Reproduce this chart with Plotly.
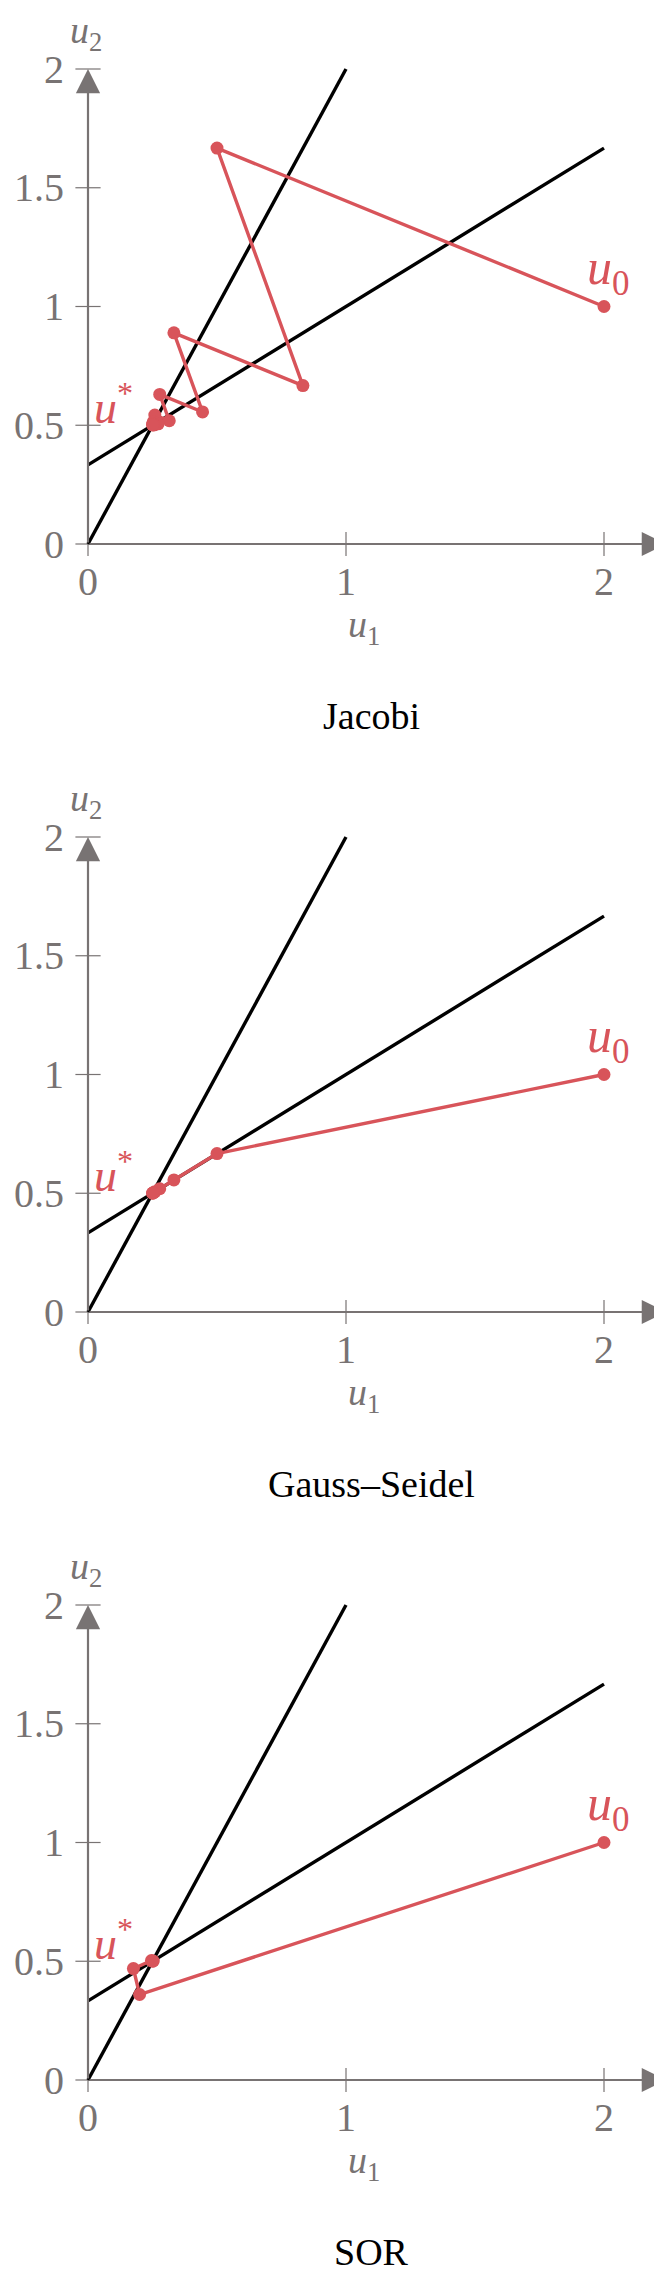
import plotly.graph_objects as go

# ---------------- data ----------------
line_a_u1 = [0.0, 1.0]          # u2 = 2 u1
line_a_u2 = [0.0, 2.0]
line_b_u1 = [0.0, 2.0]          # u2 = (1 + 2 u1) / 3
line_b_u2 = [0.3333, 1.6667]

jacobi_u1 = [2.0, 0.5, 0.833, 0.333, 0.444, 0.278, 0.315, 0.259, 0.272, 0.253, 0.257, 0.251, 0.252, 0.250]
jacobi_u2 = [1.0, 1.667, 0.667, 0.889, 0.556, 0.630, 0.519, 0.543, 0.506, 0.514, 0.502, 0.505, 0.501, 0.502]

gs_u1 = [2.0, 0.5, 0.333, 0.278, 0.259, 0.253, 0.251, 0.250]
gs_u2 = [1.0, 0.667, 0.556, 0.519, 0.506, 0.502, 0.501, 0.500]

sor_u1 = [2.0, 0.2, 0.176, 0.246, 0.253, 0.250]
sor_u2 = [1.0, 0.36, 0.469, 0.503, 0.501, 0.500]

titles = ["Jacobi", "Gauss–Seidel", "SOR"]

x_ticks = [0, 1, 2]
x_tick_labels = ["0", "1", "2"]
y_ticks = [0, 0.5, 1, 1.5, 2]
y_tick_labels = ["0", "0.5", "1", "1.5", "2"]

x_axis_end = 2.24
y_axis_end = 2.0
start_label_pos = (2.0, 1.0)
star_label_pos = (0.10, 0.59)

# ---------------- styling / layout ----------------
W, H = 662, 2272
PX0, SX = 80.0, 258.0
Y0PX = [536.0, 1304.0, 2072.0]
SY = 237.5
BAND = 768.0

GRAY = "#787373"
RED = "#d8545a"
FONT = "Liberation Serif"

paths = [(jacobi_u1, jacobi_u2), (gs_u1, gs_u2), (sor_u1, sor_u2)]

fig = go.Figure()
annotations = []
xrange_ = [(0 - PX0) / SX, (W - PX0) / SX]

for k in range(3):
    sfx = "" if k == 0 else str(k + 1)
    xa, ya = "x" + sfx, "y" + sfx
    top = BAND * k
    bot = min(BAND * (k + 1), H)
    yr = [(Y0PX[k] - bot) / SY, (Y0PX[k] - top) / SY]
    dom = [1 - bot / H, 1 - top / H]
    fig.update_layout(**{
        "xaxis" + sfx: dict(domain=[0, 1], range=xrange_, visible=False, anchor=ya),
        "yaxis" + sfx: dict(domain=dom, range=yr, visible=False, anchor=xa),
    })

    # tick marks
    fig.add_trace(go.Scatter(x=x_ticks, y=[0] * len(x_ticks), mode="markers", xaxis=xa, yaxis=ya,
                             marker=dict(symbol="line-ns", size=17, line=dict(width=1.2, color=GRAY)),
                             hoverinfo="skip"))
    fig.add_trace(go.Scatter(x=[0] * len(y_ticks), y=y_ticks, mode="markers", xaxis=xa, yaxis=ya,
                             marker=dict(symbol="line-ew", size=18, line=dict(width=1.2, color=GRAY)),
                             hoverinfo="skip"))
    # black lines
    fig.add_trace(go.Scatter(x=line_a_u1, y=line_a_u2, mode="lines", xaxis=xa, yaxis=ya,
                             line=dict(color="black", width=3.4)))
    fig.add_trace(go.Scatter(x=line_b_u1, y=line_b_u2, mode="lines", xaxis=xa, yaxis=ya,
                             line=dict(color="black", width=3.4)))
    # iteration path
    pu1, pu2 = paths[k]
    fig.add_trace(go.Scatter(x=pu1, y=pu2, mode="lines+markers", xaxis=xa, yaxis=ya,
                             line=dict(color=RED, width=3.4),
                             marker=dict(color=RED, size=13)))

    # axes with arrows
    for (tx, ty) in [(x_axis_end, 0), (0, y_axis_end)]:
        annotations.append(dict(x=tx, y=ty, ax=0, ay=0, xref=xa, yref=ya, axref=xa, ayref=ya,
                                text="", showarrow=True, arrowhead=2, arrowsize=2.2,
                                arrowwidth=2.2, arrowcolor=GRAY, standoff=0))
    # tick labels
    for v, t in zip(x_ticks, x_tick_labels):
        annotations.append(dict(x=v, y=0, xref=xa, yref=ya, text=t, showarrow=False,
                                xanchor="center", yanchor="middle", yshift=-37,
                                font=dict(family=FONT, size=40, color=GRAY)))
    for v, t in zip(y_ticks, y_tick_labels):
        annotations.append(dict(x=0, y=v, xref=xa, yref=ya, text=t, showarrow=False,
                                xanchor="right", yanchor="middle", xshift=-22,
                                font=dict(family=FONT, size=40, color=GRAY)))
    # axis labels
    annotations.append(dict(x=1.07, y=0, xref=xa, yref=ya, text="<i>u</i><sub>1</sub>",
                            showarrow=False, xanchor="center", yanchor="middle", yshift=-83,
                            font=dict(family=FONT, size=38, color=GRAY)))
    annotations.append(dict(x=0, y=2, xref=xa, yref=ya, text="<i>u</i><sub>2</sub>",
                            showarrow=False, xanchor="center", yanchor="middle", yshift=36, xshift=-2,
                            font=dict(family=FONT, size=38, color=GRAY)))
    # point labels
    annotations.append(dict(x=start_label_pos[0], y=start_label_pos[1], xref=xa, yref=ya,
                            text="<i>u</i><sub>0</sub>", showarrow=False,
                            xanchor="center", yanchor="middle", yshift=36, xshift=4,
                            font=dict(family=FONT, size=50, color=RED)))
    annotations.append(dict(x=star_label_pos[0], y=star_label_pos[1], xref=xa, yref=ya,
                            text="<i>u</i><sup>*</sup>", showarrow=False,
                            xanchor="center", yanchor="middle",
                            font=dict(family=FONT, size=46, color=RED)))
    # panel title
    annotations.append(dict(x=1.1, y=0, xref=xa, yref=ya, text=titles[k], showarrow=False,
                            xanchor="center", yanchor="middle", yshift=-172,
                            font=dict(family=FONT, size=38, color="black")))

fig.update_layout(width=W, height=H, margin=dict(l=0, r=0, t=0, b=0),
                  paper_bgcolor="white", plot_bgcolor="white",
                  showlegend=False, annotations=annotations)

fig.write_html("out.html")
